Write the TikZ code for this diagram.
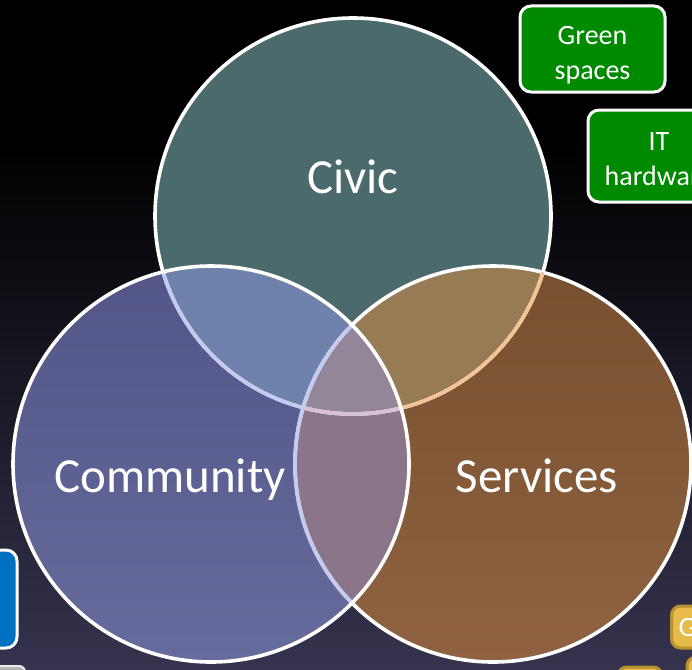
\documentclass[tikz,border=0pt]{standalone}
\usepackage{fontspec}
\setmainfont{Carlito}
\usepackage{tikz}
\usetikzlibrary{positioning}
\usepackage{xcolor}
\definecolor{bgbot}{HTML}{35334E}
\definecolor{civicfill}{HTML}{4A6A6C}
\definecolor{commtop}{HTML}{535587}
\definecolor{commbot}{HTML}{656B9C}
\definecolor{servtop}{HTML}{77502F}
\definecolor{servbot}{HTML}{906241}
\definecolor{civcom}{HTML}{6E82AB}
\definecolor{civser}{HTML}{977B54}
\definecolor{comser}{HTML}{8A7589}
\definecolor{allthree}{HTML}{938698}
\definecolor{tintlav}{HTML}{C5CAF0}
\definecolor{tintorange}{HTML}{F4C592}
\definecolor{tintmix}{HTML}{D6C2D4}
\definecolor{tagGreen}{HTML}{008A00}
\definecolor{tagBlue}{HTML}{0070C0}
\definecolor{tagGold}{HTML}{E7BB4A}
\definecolor{tagGoldEdge}{HTML}{B8922F}
\tikzset{%
	ring/.style={
		draw=white,
		line width=3.6pt
	},
	tag/.style={
		rounded corners=11pt,
		draw=white,
		line width=3pt,
		text=white,
		align=center,
		inner ysep=0pt,
		font=\fontsize{28}{35}\selectfont
	},
	goldtag/.style={
		rounded corners=9pt,
		fill=tagGold,
		draw=tagGoldEdge,
		line width=3pt,
		text=white,
		font=\fontsize{28}{35}\selectfont
	},
	big label/.style={
		text=white,
		anchor=base,
		font=\fontsize{49}{55}\selectfont
	},
}

\begin{document}
\begin{tikzpicture}[x=1pt,y=-1pt]
			\useasboundingbox (0,0) rectangle (692,669);
			\clip (0,0) rectangle (692,669);
			
			% Background
			\fill[black] (0,0) rectangle (692,669);
			\shade[top color=black, bottom color=bgbot] (0,140) rectangle (692,669);
			
			% Centres of the three circles
			\coordinate (civ) at (353,216);
			\coordinate (com) at (211,464);
			\coordinate (ser) at (493,464);
			
			% Fill the circles
			\fill[civicfill] (civ) circle[radius=198pt];
			\shade[top color=servtop, bottom color=servbot] (ser) circle[radius=198pt];
			\shade[top color=commtop, bottom color=commbot] (com) circle[radius=198pt];
			
			% Fill the overlaps
			\begin{scope}
				\clip (civ) circle[radius=198pt];
				\fill[civcom] (com) circle[radius=198pt];
				\fill[civser] (ser) circle[radius=198pt];
			\end{scope}
			\begin{scope}
				\clip (com) circle[radius=198pt];
				\fill[comser] (ser) circle[radius=198pt];
				\clip (civ) circle[radius=198pt];
				\fill[allthree] (ser) circle[radius=198pt];
			\end{scope}
			
			% Draw the borders
			\draw[ring] (civ) circle[radius=198pt];
			\draw[ring] (ser) circle[radius=198pt];
			\begin{scope}
				\clip (ser) circle[radius=198pt];
				\draw[ring, draw=tintorange] (civ) circle[radius=198pt];
			\end{scope}
			\begin{scope}
				\clip (com) circle[radius=198pt];
				\draw[ring, draw=tintlav] (civ) circle[radius=198pt];
				\draw[ring, draw=tintlav] (ser) circle[radius=198pt];
				\clip (ser) circle[radius=198pt];
				\draw[ring, draw=tintmix] (civ) circle[radius=198pt];
			\end{scope}
			\draw[ring] (com) circle[radius=198pt];
			
			% Circle labels
			\node[big label] (civiclbl) at (353,193) {Civic};
			\node[big label] (commlbl) at (170,492) {Community};
			\node[big label] (servlbl) at (537,492) {Services};
			
			% Tags round the edge
			\node[tag, fill=tagGreen, minimum width=145pt, minimum height=86pt] (green) at (592.5,49) {\rule{0pt}{31pt}Green\\spaces};
			\node[tag, fill=tagGreen, minimum width=142pt, minimum height=92pt] (ithw) at (659,156) {\rule{0pt}{24pt}IT\\hardware};
			\node[tag, fill=tagBlue, minimum width=60pt, minimum height=98pt] (bluetag) at (-13,599) {};
			\node[goldtag, anchor=west, text width=70pt, minimum height=42pt, inner sep=7pt] (gtag) at (670,627) {G};
			\draw[goldtag] (618,667) rectangle (662,700);
			\draw[goldtag] (687,657) rectangle (730,700);
			\draw[rounded corners=6pt, fill=gray!60, draw=white!85!gray, line width=2pt] (-20,666) rectangle (25,700);

		\end{tikzpicture}
\end{document}
